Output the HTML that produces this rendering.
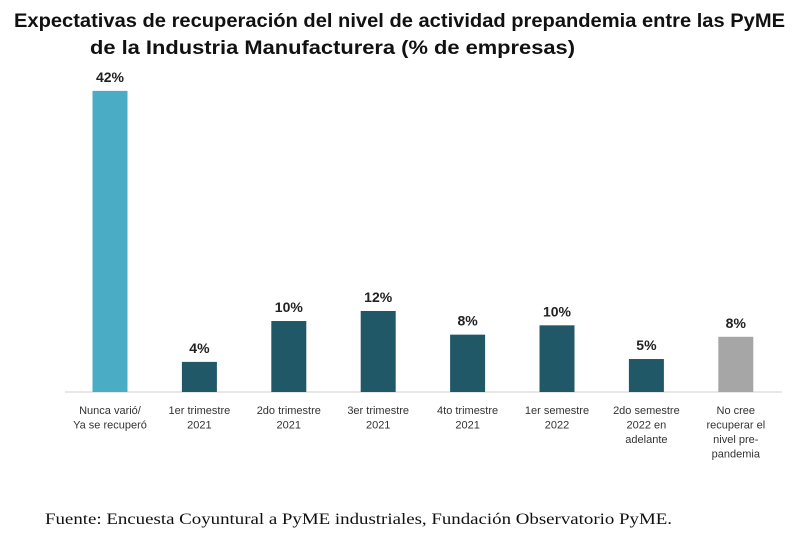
<!DOCTYPE html>
<html><head><meta charset="utf-8"><style>
body{margin:0;width:800px;height:543px;background:#fff;overflow:hidden;font-family:"Liberation Sans",sans-serif}
</style></head><body>
<svg width="800" height="543">
<text x="14" y="27" font-size="19" font-weight="bold" fill="#111" textLength="771" lengthAdjust="spacingAndGlyphs">Expectativas de recuperación del nivel de actividad prepandemia entre las PyME</text>
<text x="90" y="54" font-size="19" font-weight="bold" fill="#111" textLength="485" lengthAdjust="spacingAndGlyphs">de la Industria Manufacturera (% de empresas)</text>
<line x1="65" y1="392" x2="782" y2="392" stroke="#d0d0d0" stroke-width="1"/>
<g id="bars"></g>
<text x="45" y="524" font-size="16" font-family="Liberation Serif, serif" fill="#111" textLength="627" lengthAdjust="spacingAndGlyphs">Fuente: Encuesta Coyuntural a PyME industriales, Fundación Observatorio PyME.</text>
</svg>
<script>
const categories=[["Nunca varió/","Ya se recuperó"],["1er trimestre","2021"],["2do trimestre","2021"],["3er trimestre","2021"],["4to trimestre","2021"],["1er semestre","2022"],["2do semestre","2022 en","adelante"],["No cree","recuperar el","nivel pre-","pandemia"]];
const values=[42,4.2,9.9,11.3,8,9.3,4.6,7.7];
const labels=["42%","4%","10%","12%","8%","10%","5%","8%"];
const colors=["#4bacc6","#215868","#215868","#215868","#215868","#215868","#215868","#a6a6a6"];
const ns="http://www.w3.org/2000/svg";
const g=document.getElementById("bars");
const y=v=>392-v*7.17;
const xc=i=>110+i*89.4;
const bw=35;
values.forEach((v,i)=>{
  const r=document.createElementNS(ns,"rect");
  r.setAttribute("x",xc(i)-bw/2);r.setAttribute("y",y(v));r.setAttribute("width",bw);r.setAttribute("height",392-y(v));r.setAttribute("fill",colors[i]);
  
  
  g.appendChild(r);
  const t=document.createElementNS(ns,"text");
  t.setAttribute("x",xc(i));t.setAttribute("y",y(v)-9);t.setAttribute("text-anchor","middle");t.setAttribute("font-size","14");t.setAttribute("font-weight","bold");t.setAttribute("fill","#222");
  t.textContent=labels[i];
  
  
  g.appendChild(t);
  categories[i].forEach((line,j)=>{
    const c=document.createElementNS(ns,"text");
    c.setAttribute("x",xc(i));c.setAttribute("y",414+j*14.5);c.setAttribute("text-anchor","middle");c.setAttribute("font-size","11");c.setAttribute("fill","#333");
    c.textContent=line;
    
    
    g.appendChild(c);
  });
});
</script>
</body></html>
